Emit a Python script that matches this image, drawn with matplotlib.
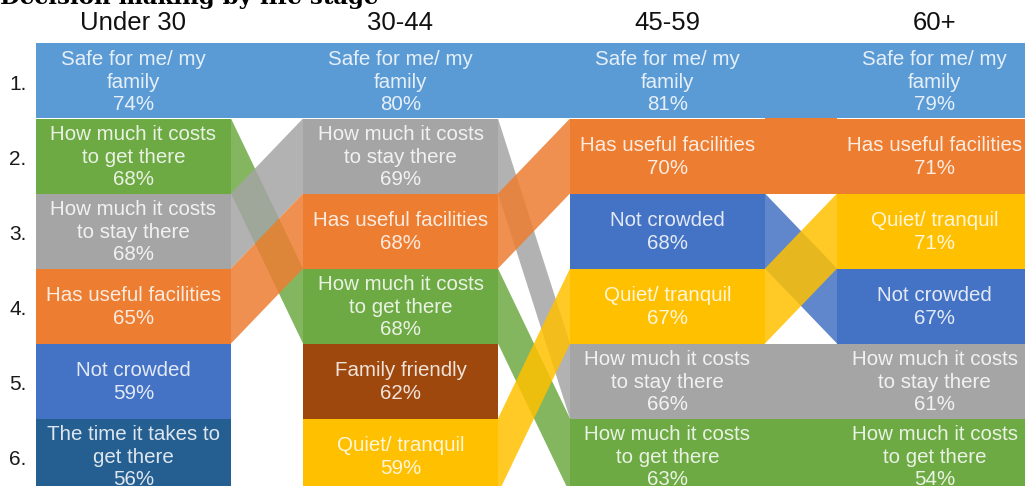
import matplotlib.pyplot as plt
from matplotlib.patches import Polygon, Rectangle

plt.rcParams['font.family'] = ['Liberation Sans', 'DejaVu Sans']

# Data: one list of criteria (ranked 1..6) and one list of shares per life stage
stages = ['Under 30', '30-44', '45-59', '60+']

under30_items = ['Safe', 'CostGet', 'CostStay', 'Facilities', 'NotCrowded', 'Time']
under30_pct = [74, 68, 68, 65, 59, 56]

age30_44_items = ['Safe', 'CostStay', 'Facilities', 'CostGet', 'Family', 'Quiet']
age30_44_pct = [80, 69, 68, 68, 62, 59]

age45_59_items = ['Safe', 'Facilities', 'NotCrowded', 'Quiet', 'CostStay', 'CostGet']
age45_59_pct = [81, 70, 68, 67, 66, 63]

age60_items = ['Safe', 'Facilities', 'Quiet', 'NotCrowded', 'CostStay', 'CostGet']
age60_pct = [79, 71, 71, 67, 61, 54]

labels = {
    'Safe': 'Safe for me/ my\nfamily',
    'CostGet': 'How much it costs\nto get there',
    'CostStay': 'How much it costs\nto stay there',
    'Facilities': 'Has useful facilities',
    'NotCrowded': 'Not crowded',
    'Time': 'The time it takes to\nget there',
    'Family': 'Family friendly',
    'Quiet': 'Quiet/ tranquil',
}

colors = {
    'Safe': '#5B9BD5',
    'CostGet': '#6EAA44',
    'CostStay': '#A5A5A5',
    'Facilities': '#ED7D31',
    'NotCrowded': '#4472C4',
    'Time': '#255E91',
    'Family': '#9E480E',
    'Quiet': '#FFC000',
}

columns = [
    (under30_items, under30_pct),
    (age30_44_items, age30_44_pct),
    (age45_59_items, age45_59_pct),
    (age60_items, age60_pct),
]

# layout (pixels)
W, H = 1025, 486
x_start = 36
box_w = 195
gap = 72
row_top = 43.5
row_h = 75


def col_left(i):
    return x_start + i * (box_w + gap)


def row_y(r):
    return row_top + r * row_h


fig = plt.figure(figsize=(W / 100, H / 100), dpi=100)
ax = fig.add_axes([0, 0, 1, 1])
ax.set_xlim(0, W)
ax.set_ylim(H, 0)
ax.axis('off')

# ribbons between neighbouring stages
for i in range(len(columns) - 1):
    items_a = columns[i][0]
    items_b = columns[i + 1][0]
    xa = col_left(i) + box_w
    xb = col_left(i + 1)
    for ra, key in enumerate(items_a):
        if key not in items_b:
            continue
        rb = items_b.index(key)
        pts = [(xa, row_y(ra)), (xb, row_y(rb)),
               (xb, row_y(rb + 1)), (xa, row_y(ra + 1))]
        alpha = 1.0 if ra == rb else 0.85
        ax.add_patch(Polygon(pts, closed=True, facecolor=colors[key],
                             edgecolor='none', alpha=alpha, zorder=1))

# boxes and their labels
for i, (items, pct) in enumerate(columns):
    x0 = col_left(i)
    for r, (key, v) in enumerate(zip(items, pct)):
        ax.add_patch(Rectangle((x0, row_y(r)), box_w, row_h,
                               facecolor=colors[key], edgecolor='none', zorder=2))
        ax.text(x0 + box_w / 2, row_y(r) + row_h / 2 + 1,
                labels[key] + '\n' + f'{v}%', ha='center', va='center',
                color='white', alpha=0.85, fontsize=14.8, linespacing=1.25,
                zorder=3)
    ax.text(x0 + box_w / 2, 23, stages[i], ha='center', va='center',
            fontsize=18.5, color='#111111')

# rank numbers
for r in range(len(under30_items)):
    ax.text(18, row_y(r) + row_h / 2 + 3, f'{r + 1}.', ha='center', va='center',
            fontsize=15, color='#1a1a1a')

ax.text(0, 4, 'Decision making by life stage', ha='left', va='baseline',
        fontsize=16.5, fontweight='bold', family='DejaVu Serif', color='black')

fig.savefig('out.png', dpi=100)
